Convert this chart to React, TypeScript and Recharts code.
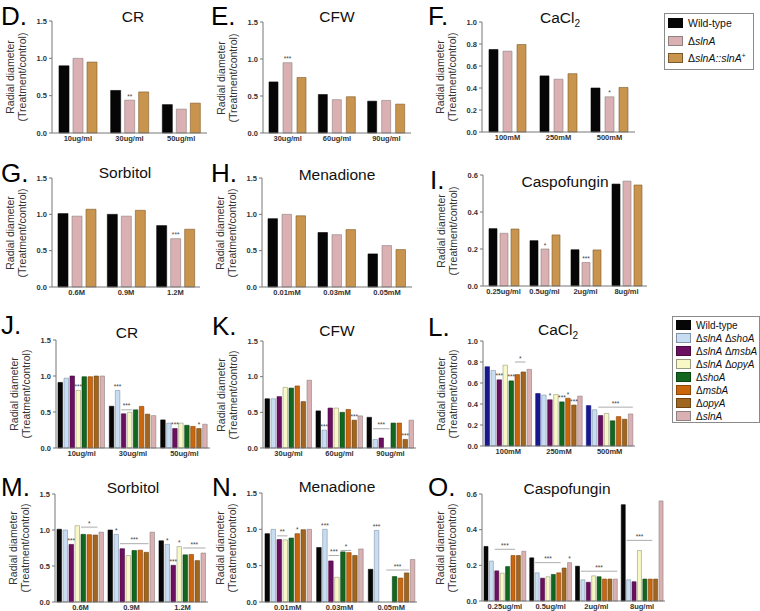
import { BarChart, Bar, XAxis, YAxis, LabelList } from 'recharts'

const FONT = '"Liberation Sans", Arial, Helvetica, sans-serif'

// strains
const STRAINS3 = ['Wild-type', 'ΔslnA', 'ΔslnA::slnA+']
const FILL3 = ['#060606', '#dbb0b2', '#c9954e']
const EDGE3 = ['#060606', '#8c8282', '#7d5a2c']

const STRAINS8 = ['Wild-type', 'ΔslnA ΔshoA', 'ΔslnA ΔmsbA', 'ΔslnA ΔopyA', 'ΔshoA', 'ΔmsbA', 'ΔopyA', 'ΔslnA']
const FILL8 = ['#060606', '#c8ddf2', '#6b1060', '#f8f7c6', '#12661e', '#c9660e', '#a0661f', '#dbb0b2']
const EDGE8 = ['#060606', '#8393a8', '#4a0a40', '#9a9a80', '#0b4413', '#8a4508', '#6e4512', '#8c8282']
const FILL8_L = ['#17198a', ...FILL8.slice(1)]
const EDGE8_L = ['#17198a', ...EDGE8.slice(1)]

// D. CR
const crDoses = ['10ug/ml', '30ug/ml', '50ug/ml']
const crWT = [0.90, 0.57, 0.38]
const crSlnA = [1.00, 0.44, 0.32]
const crComp = [0.95, 0.55, 0.40]

// E. CFW
const cfwDoses = ['30ug/ml', '60ug/ml', '90ug/ml']
const cfwWT = [0.69, 0.52, 0.43]
const cfwSlnA = [0.95, 0.45, 0.44]
const cfwComp = [0.75, 0.49, 0.39]

// F. CaCl2
const caDoses = ['100mM', '250mM', '500mM']
const caWT = [0.75, 0.51, 0.40]
const caSlnA = [0.735, 0.48, 0.32]
const caComp = [0.795, 0.53, 0.405]

// G. Sorbitol
const sorDoses = ['0.6M', '0.9M', '1.2M']
const sorWT = [1.01, 1.00, 0.845]
const sorSlnA = [0.975, 0.975, 0.665]
const sorComp = [1.07, 1.055, 0.795]

// H. Menadione
const menDoses = ['0.01mM', '0.03mM', '0.05mM']
const menWT = [0.94, 0.75, 0.455]
const menSlnA = [1.00, 0.72, 0.57]
const menComp = [0.98, 0.79, 0.515]

// I. Caspofungin
const casDoses = ['0.25ug/ml', '0.5ug/ml', '2ug/ml', '8ug/ml']
const casWT = [0.31, 0.245, 0.196, 0.551]
const casSlnA = [0.285, 0.20, 0.127, 0.567]
const casComp = [0.308, 0.276, 0.195, 0.546]

// J-O: one row per strain (STRAINS8 order), one value per dose
const crMut = [
  [0.91, 0.58, 0.39], [0.97, 0.80, 0.345], [1.00, 0.475, 0.27], [0.80, 0.495, 0.345],
  [0.99, 0.53, 0.315], [0.99, 0.578, 0.30], [1.00, 0.47, 0.27], [1.00, 0.45, 0.33],
]
const cfwMut = [
  [0.69, 0.52, 0.43], [0.69, 0.25, 0.12], [0.72, 0.56, 0.14], [0.85, 0.56, 0],
  [0.84, 0.50, 0.35], [0.87, 0.54, 0.35], [0.65, 0.39, 0.12], [0.95, 0.45, 0.39],
]
const caMut = [
  [0.755, 0.50, 0.385], [0.72, 0.485, 0.345], [0.63, 0.44, 0.29], [0.77, 0.49, 0.31],
  [0.62, 0.42, 0.24], [0.68, 0.455, 0.28], [0.705, 0.39, 0.255], [0.73, 0.475, 0.305],
]
const sorMut = [
  [1.01, 1.00, 0.85], [1.00, 0.94, 0.80], [0.80, 0.74, 0.51], [1.06, 0.645, 0.77],
  [0.94, 0.715, 0.655], [0.935, 0.72, 0.66], [0.93, 0.69, 0.575], [0.97, 0.97, 0.68],
]
const menMut = [
  [0.94, 0.75, 0.45], [1.00, 1.00, 0.985], [0.86, 0.565, 0], [0.855, 0.34, 0],
  [0.88, 0.69, 0.35], [0.94, 0.68, 0.33], [0.995, 0.64, 0.40], [1.00, 0.73, 0.585],
]
const casMut = [
  [0.306, 0.242, 0.195, 0.54], [0.224, 0.158, 0.119, 0.119], [0.169, 0.128, 0.105, 0.108],
  [0.156, 0.136, 0.141, 0.283], [0.193, 0.149, 0.136, 0.123], [0.255, 0.158, 0.123, 0.123],
  [0.255, 0.185, 0.123, 0.123], [0.279, 0.215, 0.123, 0.561],
]

// significance: [series, group, text] and bracket lines [group, fromSeries, toSeries, y, text]
const crStars = [[1, 1, '**']]
const cfwStars = [[1, 0, '***']]
const caStars = [[1, 2, '*']]
const sorStars = [[1, 2, '***']]
const casStars = [[1, 1, '*'], [1, 2, '***']]
const crMutStars = [[3, 0, '***'], [1, 1, '***'], [2, 2, '***'], [6, 2, '*']]
const crMutLines = [[1, 2, 3, 0.53, '***']]
const cfwMutStars = [[1, 1, '***'], [6, 1, '***'], [6, 2, '***']]
const cfwMutLines = [[2, 1, 3, 0.27, '***']]
const caMutStars = [[2, 0, '***'], [4, 0, '***'], [2, 1, '*'], [4, 1, '***'], [5, 1, '*'], [6, 1, '***']]
const caMutLines = [[0, 5, 6, 0.80, '*'], [2, 2, 7, 0.37, '***']]
const sorMutStars = [[2, 0, '***'], [1, 1, '*'], [1, 2, '*'], [2, 2, '***'], [3, 2, '*']]
const sorMutLines = [[0, 4, 6, 1.04, '*'], [1, 2, 6, 0.81, '***'], [2, 4, 7, 0.75, '***']]
const menMutStars = [[5, 0, '*'], [1, 1, '***'], [1, 2, '***']]
const menMutLines = [[0, 2, 3, 0.91, '**'], [1, 2, 3, 0.64, '***'], [1, 4, 5, 0.71, '*'], [2, 3, 6, 0.44, '***']]
const casMutStars = [[7, 1, '*']]
const casMutLines = [[0, 2, 5, 0.29, '***'], [1, 1, 5, 0.215, '***'], [2, 1, 7, 0.167, '***'], [3, 1, 5, 0.34, '***']]

const T15 = [0, 0.5, 1, 1.5]
const T10 = [0, 0.2, 0.4, 0.6, 0.8, 1.0]
const T06 = [0, 0.2, 0.4, 0.6]

function Panel(props: any) {
  const { x, y, w, h, max, ticks, cats, rows, fill, edge, bar, gap, stars = [], spans = [] } = props
  const mt = 8, yw = 40, xh = 16
  const data = cats.map((c: string, i: number) => {
    const r: any = { cat: c }
    rows.forEach((s: number[], j: number) => { r['s' + j] = s[i] })
    return r
  })
  const toY = (v: number) => mt + h * (1 - v / max)
  const mark = (p: any, j: number) => {
    const vb = p.viewBox || p
    const bx = vb.x ?? p.x, by = vb.y ?? p.y, bw = vb.width ?? p.width
    const g = p.index
    const out: any[] = []
    stars.forEach(([s, gi, t]: any, k: number) => {
      if (s === j && gi === g) out.push(
        <text key={'s' + k} x={bx + bw / 2} y={by - 1.5} textAnchor="middle" fontSize={6.5} fill="#444" fontFamily={FONT}>{t}</text>)
    })
    if (j === 0) spans.forEach(([gi, a, b, v, t]: any, k: number) => {
      if (gi !== g) return
      const x1 = bx + a * (bar + gap), x2 = bx + b * (bar + gap) + bar, ly = toY(v)
      out.push(<g key={'l' + k}>
        <line x1={x1} x2={x2} y1={ly} y2={ly} stroke="#888" strokeWidth={0.7} />
        <text x={(x1 + x2) / 2} y={ly - 1.5} textAnchor="middle" fontSize={6.5} fill="#444" fontFamily={FONT}>{t}</text>
      </g>)
    })
    return out.length ? <g>{out}</g> : null
  }
  const tick = { fontSize: 7.5, fontWeight: 700, fill: '#333', fontFamily: FONT }
  return (
    <div style={{ position: 'absolute', left: x - yw, top: y - mt }}>
      <BarChart width={w + yw + 4} height={h + mt + xh} data={data} barSize={bar} barGap={gap}
        margin={{ top: mt, right: 4, bottom: 0, left: 0 }}>
        <XAxis dataKey="cat" tickLine={false} tickSize={0} tickMargin={3} height={xh} stroke="#777"
          interval={0} tick={tick} />
        <YAxis domain={[0, max]} ticks={ticks} width={yw} tickSize={3} stroke="#777"
          tickFormatter={(v: number) => v.toFixed(1)} tick={tick} />
        {rows.map((_: any, j: number) => (
          <Bar key={j} dataKey={'s' + j} fill={fill[j]} stroke={edge[j]} strokeWidth={0.6} isAnimationActive={false}>
            <LabelList dataKey={'s' + j} content={(p: any) => mark(p, j)} />
          </Bar>
        ))}
      </BarChart>
    </div>
  )
}

function Strain({ name }: { name: string }) {
  if (name === 'Wild-type') return <span>{name}</span>
  const parts = name.split(/(Δ|\+| )/).filter(Boolean)
  return <span style={{ whiteSpace: 'pre' }}>{parts.map((p, i) =>
    p === 'Δ' || p === ' ' ? <span key={i}>{p}</span>
      : p === '+' ? <span key={i} style={{ fontSize: '0.65em', verticalAlign: 'super', lineHeight: 0 }}>+</span>
        : <i key={i}>{p}</i>)}</span>
}

function Legend({ x, y, w, h, names, fill, edge, pitch, top0, fs }: any) {
  return (
    <div style={{ position: 'absolute', left: x, top: y, width: w, height: h, border: '1px solid #8a8a8a', boxSizing: 'border-box' }}>
      {names.map((n: string, i: number) => (
        <div key={i} style={{ position: 'absolute', left: 3, top: top0 + i * pitch - 6, height: 12, display: 'flex', alignItems: 'center', whiteSpace: 'nowrap', fontSize: fs, fontFamily: FONT, color: '#111' }}>
          <span style={{ display: 'inline-block', width: 15, height: 10, background: fill[i], border: '1px solid ' + edge[i], boxSizing: 'border-box', marginRight: 5 }} />
          <Strain name={n} />
        </div>
      ))}
    </div>
  )
}

const Title = ({ x, y, children }: any) => (
  <div style={{ position: 'absolute', left: x - 70, top: y - 10, width: 140, lineHeight: '20px', textAlign: 'center', fontSize: 15.5, fontFamily: FONT, color: '#111' }}>{children}</div>
)
const Letter = ({ x, y, t }: any) => (
  <div style={{ position: 'absolute', left: x, top: y - 14, lineHeight: '28px', fontSize: 26, fontFamily: FONT, color: '#000' }}>{t}.</div>
)
const YLabel = ({ x, y }: any) => (
  <div style={{ position: 'absolute', left: x - 60, top: y - 12, width: 120, height: 24, transform: 'rotate(-90deg)', textAlign: 'center', fontSize: 10.5, lineHeight: '12px', color: '#333', fontFamily: FONT, whiteSpace: 'nowrap' }}>
    Radial diameter<br />(Treatment/control)
  </div>
)
const CaCl2 = () => <>CaCl<sub style={{ fontSize: '0.65em' }}>2</sub></>

export default function App() {
  const p3 = { fill: FILL3, edge: EDGE3 }
  const p8 = { fill: FILL8, edge: EDGE8 }
  const panels = [
    { x: 52, y: 21, w: 155, h: 112, max: 1.5, ticks: T15, cats: crDoses, rows: [crWT, crSlnA, crComp], bar: 10, gap: 4, stars: crStars, ...p3 },
    { x: 263, y: 22, w: 148, h: 111, max: 1.5, ticks: T15, cats: cfwDoses, rows: [cfwWT, cfwSlnA, cfwComp], bar: 9, gap: 5, stars: cfwStars, ...p3 },
    { x: 482, y: 22, w: 153, h: 110, max: 1.0, ticks: T10, cats: caDoses, rows: [caWT, caSlnA, caComp], bar: 9, gap: 5, stars: caStars, ...p3 },
    { x: 52, y: 178, w: 148, h: 109, max: 1.5, ticks: T15, cats: sorDoses, rows: [sorWT, sorSlnA, sorComp], bar: 10, gap: 4, stars: sorStars, ...p3 },
    { x: 262, y: 178, w: 150, h: 109, max: 1.5, ticks: T15, cats: menDoses, rows: [menWT, menSlnA, menComp], bar: 9.5, gap: 4.5, ...p3 },
    { x: 483, y: 175, w: 164, h: 111, max: 0.6, ticks: T06, cats: casDoses, rows: [casWT, casSlnA, casComp], bar: 8, gap: 3, stars: casStars, ...p3 },
    { x: 56, y: 340, w: 154, h: 108, max: 1.5, ticks: T15, cats: crDoses, rows: crMut, bar: 4.5, gap: 1.5, stars: crMutStars, spans: crMutLines, ...p8 },
    { x: 263, y: 341, w: 153, h: 107, max: 1.5, ticks: T15, cats: cfwDoses, rows: cfwMut, bar: 4.5, gap: 1.5, stars: cfwMutStars, spans: cfwMutLines, ...p8 },
    { x: 483, y: 341, w: 152, h: 105, max: 1.0, ticks: T10, cats: caDoses, rows: caMut, bar: 4.5, gap: 1.5, stars: caMutStars, spans: caMutLines, fill: FILL8_L, edge: EDGE8_L },
    { x: 55, y: 494, w: 153, h: 108, max: 1.5, ticks: T15, cats: sorDoses, rows: sorMut, bar: 4.5, gap: 1.5, stars: sorMutStars, spans: sorMutLines, ...p8 },
    { x: 262, y: 493, w: 155, h: 109, max: 1.5, ticks: T15, cats: menDoses, rows: menMut, bar: 4.5, gap: 1.5, stars: menMutStars, spans: menMutLines, ...p8 },
    { x: 482, y: 494, w: 183, h: 107, max: 0.6, ticks: T06, cats: casDoses, rows: casMut, bar: 4, gap: 1.4, stars: casMutStars, spans: casMutLines, ...p8 },
  ]
  return (
    <div style={{ position: 'absolute', left: 0, top: 0, width: 760, height: 611, background: '#fff', overflow: 'hidden' }}>
      {panels.map((p, i) => <Panel key={i} {...p} />)}
      {panels.map((p, i) => <YLabel key={'y' + i} x={p.x - 36} y={p.y + p.h / 2} />)}

      <Letter x={1} y={16} t="D" /><Letter x={211} y={16} t="E" /><Letter x={428} y={16} t="F" />
      <Letter x={1} y={173} t="G" /><Letter x={211} y={173} t="H" /><Letter x={430} y={180} t="I" />
      <Letter x={1} y={325} t="J" /><Letter x={212} y={326} t="K" /><Letter x={428} y={327} t="L" />
      <Letter x={1} y={487} t="M" /><Letter x={212} y={487} t="N" /><Letter x={428} y={487} t="O" />

      <Title x={133} y={17}>CR</Title>
      <Title x={337} y={17}>CFW</Title>
      <Title x={560} y={18}><CaCl2 /></Title>
      <Title x={125} y={173}>Sorbitol</Title>
      <Title x={337} y={175}>Menadione</Title>
      <Title x={565} y={182}>Caspofungin</Title>
      <Title x={127} y={333}>CR</Title>
      <Title x={337} y={331}>CFW</Title>
      <Title x={558} y={330}><CaCl2 /></Title>
      <Title x={133} y={488}>Sorbitol</Title>
      <Title x={337} y={487}>Menadione</Title>
      <Title x={567} y={489}>Caspofungin</Title>

      <Legend x={664} y={13} w={90} h={57} names={STRAINS3} fill={FILL3} edge={EDGE3} pitch={17.5} top0={9} fs={10.5} />
      <Legend x={672} y={316} w={88} h={107} names={STRAINS8} fill={FILL8} edge={EDGE8} pitch={13} top0={8} fs={10} />
    </div>
  )
}
